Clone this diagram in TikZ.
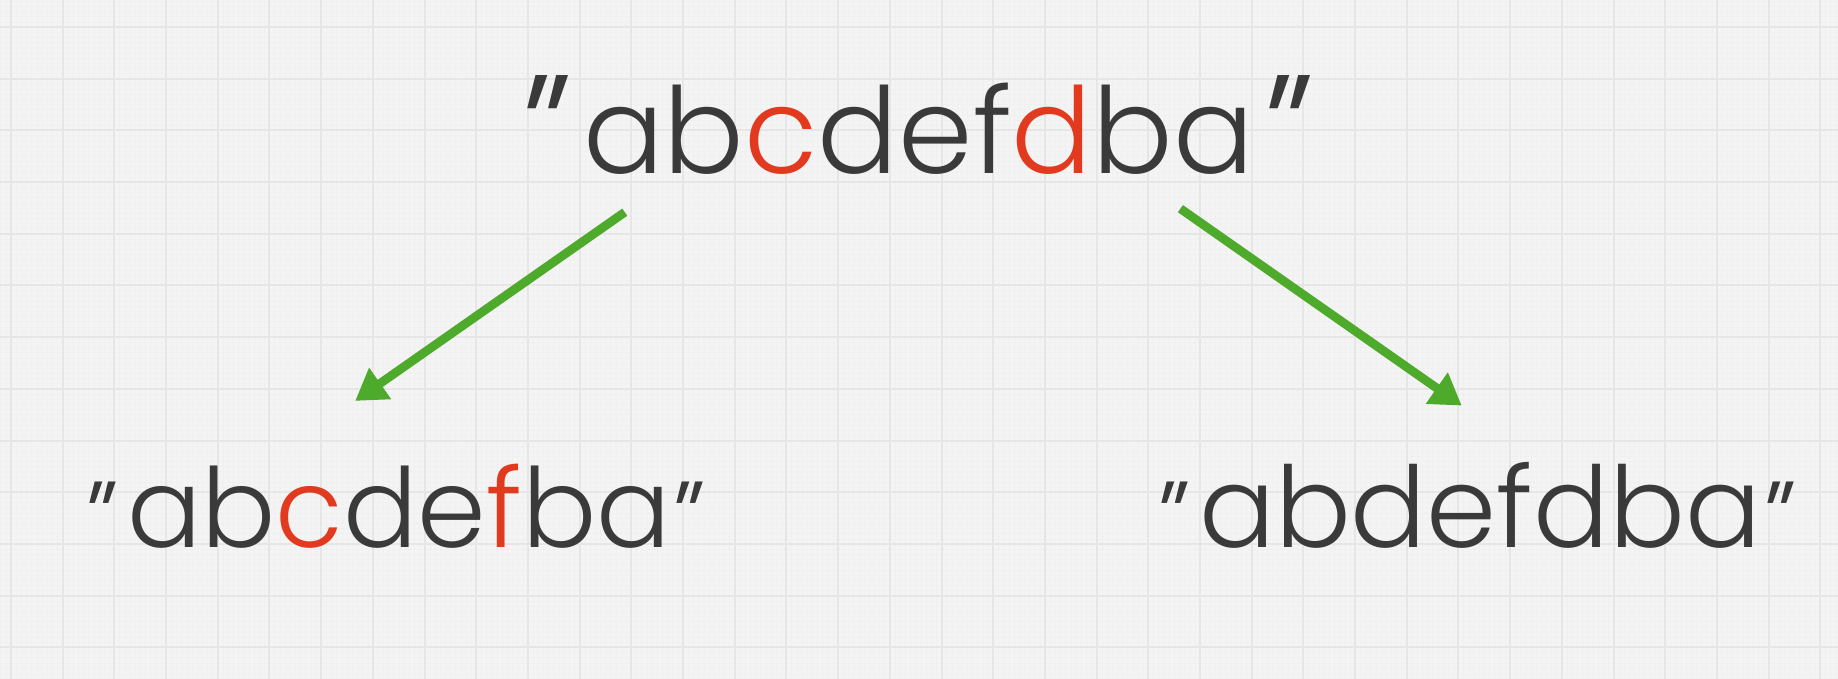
\documentclass[tikz,border=0pt]{standalone}
\usepackage{fontspec}
\setmainfont{Poppins Light}
\newfontfamily\qfont[FakeSlant=0.3]{Poppins Light}
\usetikzlibrary{arrows.meta}
\definecolor{bg}{HTML}{F4F4F4}
\definecolor{gmajor}{HTML}{E6E6E6}
\definecolor{gminor}{HTML}{F0F0F0}
\definecolor{ink}{HTML}{3A3A3A}
\definecolor{hl}{HTML}{E23A1F}
\definecolor{arr}{HTML}{4DAA2B}
\newcommand{\hlc}[1]{\textcolor{hl}{#1}}
% opening / closing quotes: #1 quote size, #2 lowering, #3 kern
\newcommand{\oq}[3]{\llap{\raisebox{-#2}{\fontsize{#1}{#1}\qfont"}\kern#3}}
\newcommand{\cq}[3]{\rlap{\kern#3\raisebox{-#2}{\fontsize{#1}{#1}\qfont"}}}
\tikzset{
  word/.style={anchor=base west, inner sep=0pt, text=ink},
  bigword/.style={word, font=\fontsize{102}{102}\selectfont},
  smallword/.style={word, font=\fontsize{96}{96}\selectfont},
  link/.style={draw=arr, line width=7.5pt, -{Triangle[length=26pt,width=31pt]}}
}
\begin{document}
\begin{tikzpicture}[x=1pt,y=-1pt]
\fill[bg] (0,0) rectangle (1568,579);
\useasboundingbox (0,0) rectangle (1568,579);
\foreach \i in {0,...,360} {
  \draw[gminor, line width=0.4pt] ({0.6+4.41*\i},0) -- ({0.6+4.41*\i},579);
}
\foreach \i in {0,...,132} {
  \draw[gminor, line width=0.4pt] (0,{1.0+4.41*\i}) -- (1568,{1.0+4.41*\i});
}
\foreach \i in {0,...,36} {
  \draw[gmajor, line width=1.7pt] ({9.4+44.1*\i},0) -- ({9.4+44.1*\i},579);
}
\foreach \i in {0,...,13} {
  \draw[gmajor, line width=1.7pt] (0,{23+44.1*\i}) -- (1568,{23+44.1*\i});
}
\node[bigword] (top) at (497.4,148)
  {\oq{147pt}{33pt}{42pt}ab\hlc{c}def\hlc{d}ba\cq{147pt}{33pt}{-20pt}};
\node[smallword, font=\fontsize{94}{94}\selectfont] (left) at (108.3,467)
  {\oq{95pt}{20pt}{28.4pt}ab\hlc{c}de\hlc{f}ba\cq{95pt}{20pt}{-17pt}};
\node[smallword] (right) at (1022.7,467)
  {\oq{95pt}{20pt}{28pt}abdefdba\cq{95pt}{20pt}{-16pt}};
\coordinate (s1) at (533,181);
\coordinate (e1) at (303,342);
\coordinate (s2) at (1007,178);
\coordinate (e2) at (1247,346);
\draw[link] (s1) -- (e1);
\draw[link] (s2) -- (e2);
\end{tikzpicture}
\end{document}
